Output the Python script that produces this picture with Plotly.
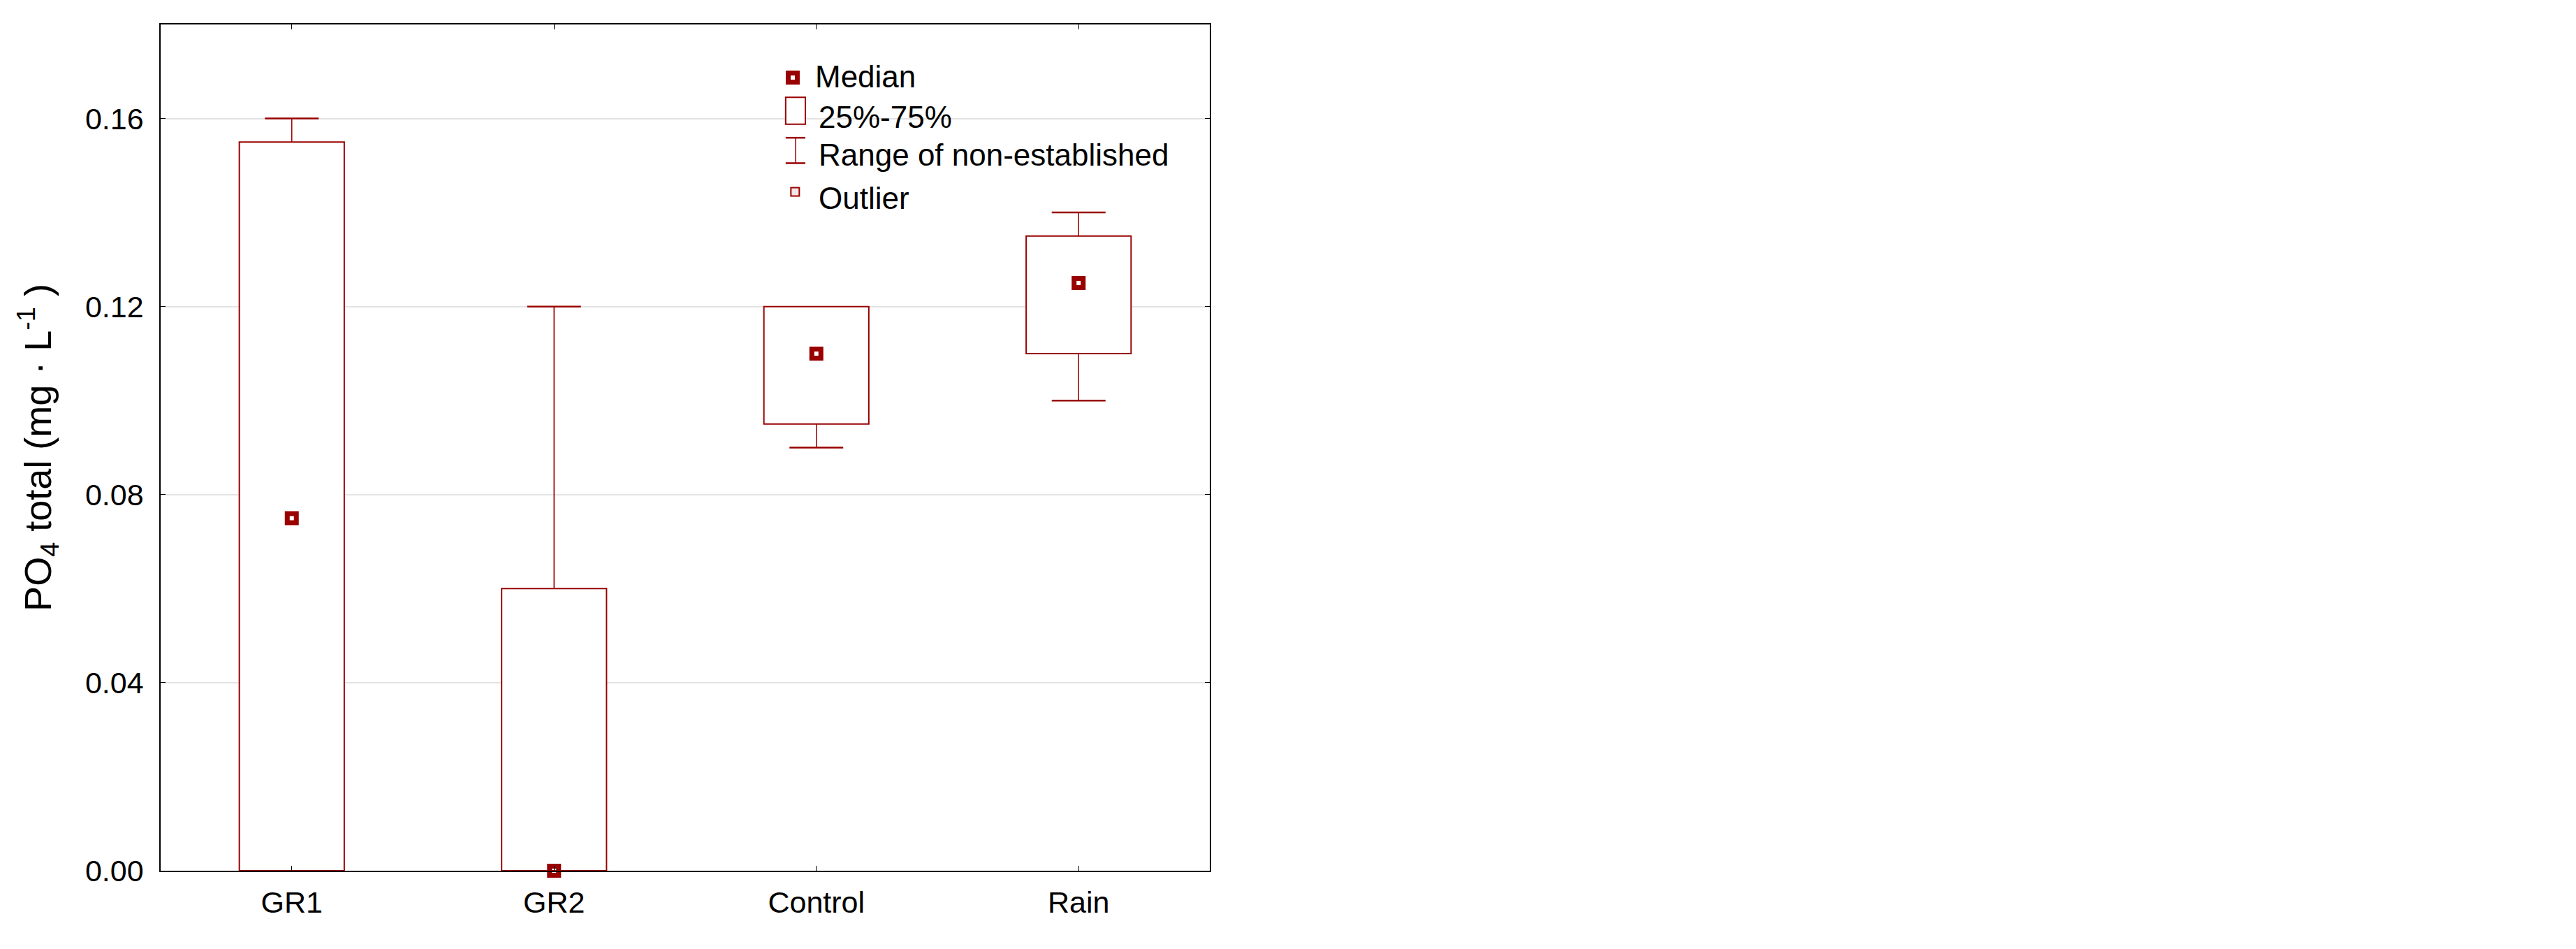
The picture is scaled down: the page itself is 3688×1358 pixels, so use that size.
import plotly.graph_objects as go

# ---- data ----
categories = ["GR1", "GR2", "Control", "Rain"]
medians = [0.075, 0.0, 0.110, 0.125]
q1 = [0.0, 0.0, 0.095, 0.110]
q3 = [0.155, 0.060, 0.120, 0.135]
whisker_low = [0.0, 0.0, 0.090, 0.100]
whisker_high = [0.160, 0.120, 0.120, 0.140]
y_ticks = [0.00, 0.04, 0.08, 0.12, 0.16]

RED = "#990000"
FONT = "Liberation Sans, Arial, sans-serif"
BOX_HALF = 0.2
CAP_HALF = 0.1025

xs = list(range(len(categories)))

fig = go.Figure()

# boxes (25%-75%)
fig.add_trace(go.Bar(
    x=xs, y=[b - a for a, b in zip(q1, q3)], base=q1, width=2 * BOX_HALF,
    marker=dict(color="white", line=dict(color=RED, width=2)),
    showlegend=False, hoverinfo="skip"))

# whisker stems and caps
stem_x, stem_y, cap_x, cap_y = [], [], [], []
for i in xs:
    for edge, fence in ((q3[i], whisker_high[i]), (q1[i], whisker_low[i])):
        if fence != edge:
            stem_x += [i, i, None]
            stem_y += [edge, fence, None]
            cap_x += [i - CAP_HALF, i + CAP_HALF, None]
            cap_y += [fence, fence, None]

fig.add_trace(go.Scatter(x=stem_x, y=stem_y, mode="lines",
                         line=dict(color=RED, width=1.5),
                         showlegend=False, hoverinfo="skip"))
fig.add_trace(go.Scatter(x=cap_x, y=cap_y, mode="lines",
                         line=dict(color=RED, width=2.5),
                         showlegend=False, hoverinfo="skip"))

# medians
fig.add_trace(go.Scatter(x=xs, y=medians, mode="markers", cliponaxis=False,
                         marker=dict(symbol="square-open", size=13, color=RED,
                                     line=dict(width=7, color=RED)),
                         showlegend=False))

# ---- manual legend ----
fig.add_trace(go.Scatter(x=[1.910], y=[0.1687], mode="markers",
                         marker=dict(symbol="square-open", size=13, color=RED,
                                     line=dict(width=7, color=RED)),
                         showlegend=False, hoverinfo="skip"))
fig.add_trace(go.Scatter(x=[1.919], y=[0.1444], mode="markers",
                         marker=dict(symbol="square", size=12, color="#f3e6e6",
                                     line=dict(width=2, color=RED)),
                         showlegend=False, hoverinfo="skip"))
shapes = [
    dict(type="rect", xref="x", yref="y", x0=1.883, x1=1.958, y0=0.1588, y1=0.1645,
         line=dict(color=RED, width=2), fillcolor="white"),
    dict(type="line", xref="x", yref="y", x0=1.883, x1=1.958, y0=0.1559, y1=0.1559,
         line=dict(color=RED, width=2.5)),
    dict(type="line", xref="x", yref="y", x0=1.883, x1=1.958, y0=0.1505, y1=0.1505,
         line=dict(color=RED, width=2.5)),
    dict(type="line", xref="x", yref="y", x0=1.921, x1=1.921, y0=0.1505, y1=0.1559,
         line=dict(color=RED, width=1.5)),
]
legend_texts = [("Median", 1.990, 0.1690), ("25%-75%", 2.003, 0.1603),
                ("Range of non-established", 2.003, 0.1523), ("Outlier", 2.003, 0.1431)]
annotations = [dict(text=t, x=x, y=y, xref="x", yref="y", xanchor="left", yanchor="middle",
                    showarrow=False, font=dict(family=FONT, size=44, color="black"))
               for t, x, y in legend_texts]

fig.update_layout(
    width=3688, height=1358,
    margin=dict(l=222, r=1964, t=27, b=120),
    paper_bgcolor="white", plot_bgcolor="white",
    font=dict(family=FONT, size=43, color="black"),
    shapes=shapes, annotations=annotations,
    showlegend=False,
    xaxis=dict(range=[-0.5, 3.5], tickvals=xs, ticktext=categories,
               showline=True, linecolor="black", linewidth=2, mirror="ticks",
               ticks="inside", ticklen=7, tickcolor="black", tickwidth=1,
               showgrid=False, zeroline=False, ticklabelstandoff=6,
               tickfont=dict(family=FONT, size=43)),
    yaxis=dict(range=[0, 0.18], tickvals=y_ticks, tickformat=".2f",
               showline=True, linecolor="black", linewidth=1.5, mirror="ticks",
               ticks="inside", ticklen=7, tickcolor="black", tickwidth=1,
               showgrid=True, gridcolor="#e3e3e3", gridwidth=1.5, zeroline=False,
               ticklabelstandoff=14, tickfont=dict(family=FONT, size=43),
               title=dict(text="PO<sub>4</sub> total (mg · L<sup>-1</sup> )",
                          font=dict(family=FONT, size=54), standoff=31)),
)

fig.write_html("out.html")
